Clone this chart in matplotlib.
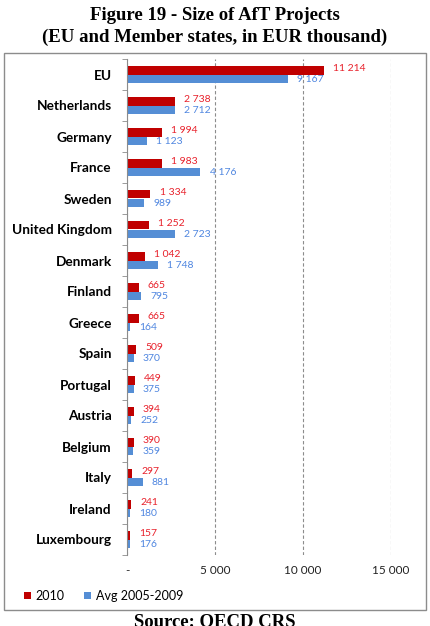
import numpy as np
import matplotlib
matplotlib.use("Agg")
import matplotlib.pyplot as plt
from matplotlib.patches import Rectangle
from matplotlib.ticker import FixedLocator

countries = ['EU', 'Netherlands', 'Germany', 'France', 'Sweden', 'United Kingdom',
             'Denmark', 'Finland', 'Greece', 'Spain', 'Portugal', 'Austria',
             'Belgium', 'Italy', 'Ireland', 'Luxembourg']
vals_2010 = [11214, 2738, 1994, 1983, 1334, 1252, 1042, 665, 665, 509, 449, 394,
             390, 297, 241, 157]
vals_avg = [9167, 2712, 1123, 4176, 989, 2723, 1748, 795, 164, 370, 375, 252,
            359, 881, 180, 176]
xticks = [0, 5000, 10000, 15000]
xticklabels = ['-', '5 000', '10 000', '15 000']

red = '#C00000'
blue = '#558ED5'
red_txt = '#E8212B'
blue_txt = '#4F86E0'
sans = ['Lato', 'DejaVu Sans']
serif = ['Liberation Serif', 'DejaVu Serif']


def fmt(v):
    return '{:,}'.format(v).replace(',', ' ')


fig = plt.figure(figsize=(4.3, 6.26), dpi=100)
W, H = 430.0, 626.0

# title and source in Times-like bold
fig.text(0.5, 1 - 15 / H, 'Figure 19 - Size of AfT Projects', ha='center', va='center',
         fontsize=13.5, fontweight='bold', family=serif)
fig.text(0.5, 1 - 37 / H, '(EU and Member states, in EUR thousand)', ha='center',
         va='center', fontsize=13.5, fontweight='bold', family=serif)
# the source line is cut by the lower edge, as in the original page crop
fig.text(0.5, 1 - 627 / H, 'Source: OECD CRS', ha='center', va='baseline',
         fontsize=13.5, fontweight='bold', family=serif)

# frame around chart
fig.add_artist(Rectangle((4 / W, 1 - 610 / H), 422 / W, 557 / H, transform=fig.transFigure,
                         fill=False, edgecolor='#8c8c8c', linewidth=1.0))

ax = fig.add_axes([127 / W, 1 - 555 / H, (391 - 127) / W, (555 - 59) / H])
y = np.arange(len(countries))
h = 0.27
ax.barh(y - h / 2, vals_2010, height=h, color=red, label='2010')
ax.barh(y + h / 2, vals_avg, height=h, color=blue, label='Avg 2005-2009')

for yi, a, b in zip(y, vals_2010, vals_avg):
    ax.annotate(fmt(a), (a, yi - h / 2), xytext=(6.5, 1.0), textcoords='offset points',
                va='center', ha='left', fontsize=7.5, color=red_txt, family=sans)
    ax.annotate(fmt(b), (b, yi + h / 2), xytext=(6.5, -0.5), textcoords='offset points',
                va='center', ha='left', fontsize=7.5, color=blue_txt, family=sans)

ax.set_xlim(0, 15000)
ax.set_ylim(len(countries) - 0.5, -0.5)
ax.set_xticks(xticks)
ax.set_xticklabels(xticklabels, fontsize=8.5, family=sans, color='#222222')
ax.set_yticks(y)
ax.set_yticklabels(countries, fontsize=9.8, fontweight='bold', family=sans)
ax.yaxis.set_minor_locator(FixedLocator(np.arange(-0.5, len(countries), 1)))
ax.tick_params(axis='y', which='major', length=0, pad=11)
ax.tick_params(axis='y', which='minor', length=3.5, color='#8c8c8c', direction='out')
ax.tick_params(axis='x', length=0, pad=7)
for s in ['top', 'right', 'bottom']:
    ax.spines[s].set_visible(False)
ax.spines['left'].set_color('#8c8c8c')
ax.set_axisbelow(True)
ax.xaxis.grid(True, linestyle=(0, (3, 2)), color='#8c8c8c', linewidth=0.8)

fig.legend(loc='center left', bbox_to_anchor=(24 / W, 1 - 596 / H), ncol=2, frameon=False,
           prop={'family': sans, 'size': 9}, handlelength=0.55, handleheight=0.55,
           handletextpad=0.35, columnspacing=1.6, borderaxespad=0, borderpad=0)

fig.savefig('out.png', dpi=100)
